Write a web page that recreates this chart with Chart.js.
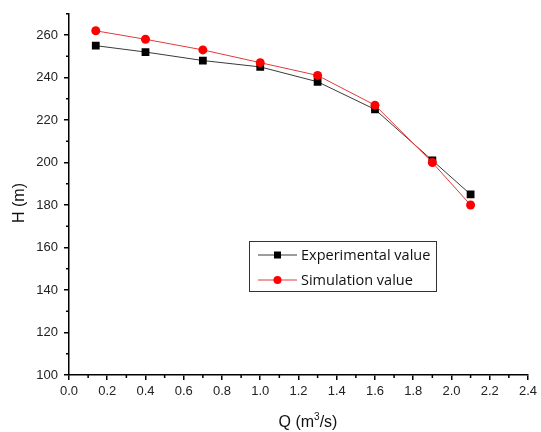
<!DOCTYPE html>
<html>
<head>
<meta charset="utf-8">
<script src="https://cdn.jsdelivr.net/npm/chart.js@4"></script>
<style>
  html, body { margin: 0; padding: 0; background: #fff; }
  #wrap { width: 541px; height: 432px; }
</style>
</head>
<body>
<div id="wrap"><canvas id="headChart" width="541" height="432"></canvas></div>
<script>
// flow rate Q (m3/s) and head H (m)
const qValues = [0.14, 0.4, 0.7, 1.0, 1.3, 1.6, 1.9, 2.1];
const experimentalH = [255, 252, 248, 245, 238, 225, 201, 185];
const simulationH = [262, 258, 253, 247, 241, 227, 200, 180];

const xTicks = [0.0, 0.2, 0.4, 0.6, 0.8, 1.0, 1.2, 1.4, 1.6, 1.8, 2.0, 2.2, 2.4];
const yTicks = [100, 120, 140, 160, 180, 200, 220, 240, 260];
const xMinor = [0.1, 0.3, 0.5, 0.7, 0.9, 1.1, 1.3, 1.5, 1.7, 1.9, 2.1, 2.3];
const yMinor = [110, 130, 150, 170, 190, 210, 230, 250, 270];

const seriesNames = ['Experimental value', 'Simulation value'];

const tickFont = { family: '"Liberation Sans", Arial, sans-serif', size: 13 };

function toPoints(ys) {
    return qValues.map((q, i) => ({ x: q, y: ys[i] }));
}

// minor ticks, axis titles and the boxed legend
const extras = {
    id: 'extras',
    afterDraw(chart) {
        const ctx = chart.ctx;
        const xs = chart.scales.x, ys = chart.scales.y;
        const area = chart.chartArea;
        ctx.save();
        ctx.strokeStyle = '#000';
        ctx.lineWidth = 1.5;
        ctx.beginPath();
        xMinor.forEach(v => {
            const px = xs.getPixelForValue(v);
            ctx.moveTo(px, area.bottom);
            ctx.lineTo(px, area.bottom + 3);
        });
        yMinor.forEach(v => {
            const py = ys.getPixelForValue(v);
            ctx.moveTo(area.left, py);
            ctx.lineTo(area.left - 3, py);
        });
        ctx.stroke();

        // axis titles
        ctx.fillStyle = '#111';
        ctx.font = '16px "Liberation Sans", Arial, sans-serif';
        ctx.textBaseline = 'alphabetic';
        ctx.save();
        ctx.translate(24, 203);
        ctx.rotate(-Math.PI / 2);
        ctx.textAlign = 'center';
        ctx.fillText('H (m)', 0, 0);
        ctx.restore();

        const a = 'Q (m', b = '3', c = '/s)';
        ctx.font = '16px "Liberation Sans", Arial, sans-serif';
        const wa = ctx.measureText(a).width, wc = ctx.measureText(c).width;
        ctx.font = '10px "Liberation Sans", Arial, sans-serif';
        const wb = ctx.measureText(b).width;
        let tx = 308 - (wa + wb + wc) / 2;
        const base = 427;
        ctx.textAlign = 'left';
        ctx.font = '16px "Liberation Sans", Arial, sans-serif';
        ctx.fillText(a, tx, base);
        tx += wa;
        ctx.font = '10px "Liberation Sans", Arial, sans-serif';
        ctx.fillText(b, tx, base - 7);
        tx += wb;
        ctx.font = '16px "Liberation Sans", Arial, sans-serif';
        ctx.fillText(c, tx, base);

        // legend
        ctx.lineWidth = 1;
        ctx.strokeStyle = '#333';
        ctx.strokeRect(249.5, 241.5, 187, 50);
        ctx.font = '14.5px "Open Sans", "Noto Sans", sans-serif';
        ctx.textBaseline = 'middle';
        chart.data.datasets.forEach((ds, i) => {
            const row = seriesNames.indexOf(ds.label);
            const y = 255 + row * 25;
            ctx.strokeStyle = ds.borderColor;
            ctx.beginPath();
            ctx.moveTo(258, y);
            ctx.lineTo(297, y);
            ctx.stroke();
            ctx.fillStyle = ds.pointBackgroundColor;
            if (ds.pointStyle === 'rect') {
                ctx.fillRect(274, y - 3.5, 7, 7);
            } else {
                ctx.beginPath();
                ctx.arc(277.5, y, 4, 0, Math.PI * 2);
                ctx.fill();
            }
            ctx.fillStyle = '#111';
            ctx.fillText(ds.label, 301, y + 1);
        });
        ctx.restore();
    }
};

new Chart(document.getElementById('headChart'), {
    type: 'scatter',
    data: {
        datasets: [
            {
                label: seriesNames[0],
                data: toPoints(experimentalH),
                showLine: true,
                borderColor: '#3a3a3a',
                borderWidth: 1,
                pointStyle: 'rect',
                pointRadius: 5.5,
                pointBackgroundColor: '#000',
                pointBorderColor: '#000',
                pointBorderWidth: 0,
                order: 2
            },
            {
                label: seriesNames[1],
                data: toPoints(simulationH),
                showLine: true,
                borderColor: '#e23a3a',
                borderWidth: 1,
                pointStyle: 'circle',
                pointRadius: 4.5,
                pointBackgroundColor: '#ff0000',
                pointBorderColor: '#ff0000',
                pointBorderWidth: 0,
                order: 1
            }
        ]
    },
    options: {
        responsive: false,
        animation: false,
        layout: { padding: { top: 9, right: 12, left: 0, bottom: 0 } },
        plugins: {
            legend: { display: false },
            tooltip: { enabled: false }
        },
        scales: {
            x: {
                type: 'linear',
                min: 0,
                max: 2.4,
                afterBuildTicks: s => { s.ticks = xTicks.map(v => ({ value: v })); },
                afterFit: s => { s.height = 57; },
                ticks: {
                    font: tickFont,
                    color: '#222',
                    padding: 4,
                    maxRotation: 0,
                    callback: v => Number(v).toFixed(1)
                },
                grid: { drawOnChartArea: false, tickLength: 5, color: '#000', lineWidth: 1.5 },
                border: { color: '#000', width: 1.5 }
            },
            y: {
                min: 100,
                max: 270,
                afterBuildTicks: s => { s.ticks = yTicks.map(v => ({ value: v })); },
                afterFit: s => { s.width = 69; },
                ticks: {
                    font: tickFont,
                    color: '#222',
                    padding: 6
                },
                grid: { drawOnChartArea: false, tickLength: 5, color: '#000', lineWidth: 1.5 },
                border: { color: '#000', width: 1.5 }
            }
        }
    },
    plugins: [extras]
});
</script>
</body>
</html>
